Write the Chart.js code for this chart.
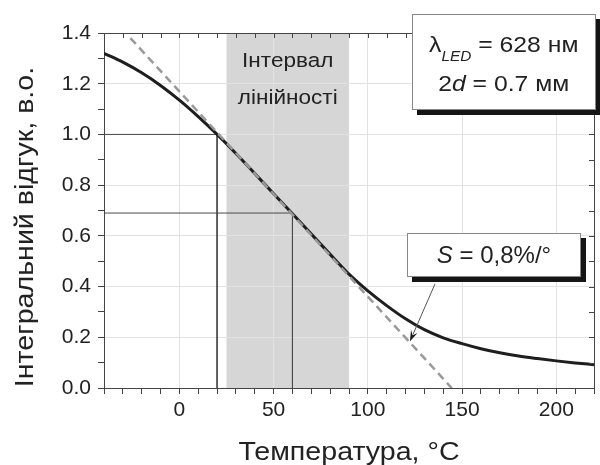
<!DOCTYPE html>
<html>
<head>
<meta charset="utf-8">
<script src="https://cdn.jsdelivr.net/npm/chart.js@4.4.0/dist/chart.umd.min.js"></script>
<style>
  html, body { margin: 0; padding: 0; background: #fff; }
</style>
</head>
<body>
<canvas id="myChart" width="600" height="465"></canvas>
<script>
// --DATA--------------------------------------------------------------------
const temperatures = [-40, -30, -20, -10, 0, 10, 20, 30, 40, 50, 60, 70, 80, 90,
  100, 110, 120, 130, 140, 150, 160, 170, 180, 190, 200, 210, 220];
const response = [1.32, 1.285, 1.243, 1.193, 1.135, 1.07, 1.0, 0.925, 0.846, 0.766,
  0.687, 0.607, 0.527, 0.449, 0.383, 0.325, 0.273, 0.23, 0.198, 0.175,
  0.155, 0.139, 0.126, 0.116, 0.107, 0.099, 0.092];
const tangentX = [-26, 144.5];
const tangentY = [1.38, 0];
const linearRange = [25, 90];
const markX = [20, 60];
const markY = [1.0, 0.69];
const xTickLabels = [0, 50, 100, 150, 200];
const yTickLabels = [0, 0.2, 0.4, 0.6, 0.8, 1.0, 1.2, 1.4];

const FONT = '"Liberation Sans", Arial, sans-serif';
const TEXT = "#222";
const STRETCH = 1.1;

// --ANNOTATIONS (data units)----------------------------------------------
const infoBox = { x0: 123.2, x1: 221, y0: 1.475, y1: 1.096, lines: [1.325, 1.171] };
const slopeBox = { x0: 120.6, x1: 213.3, y0: 0.612, y1: 0.439, line: 0.493 };
const slopeArrow = { from: [135.6, 0.41], to: [122.3, 0.183] };
const bandText = { lines: ["Інтервал", "лінійності"], y: [1.265, 1.120] };

function isLabel(list, v) {
  return list.some((l) => Math.abs(l - v) < 1e-6);
}

// text drawn a bit wider, the original picture is stretched sideways
function drawParts(ctx, parts, cx, y, stretch) {
  let total = 0;
  parts.forEach((p) => {
    ctx.font = p.font;
    p.w = ctx.measureText(p.t).width;
    total += p.w;
  });
  ctx.save();
  ctx.translate(cx, y);
  ctx.scale(stretch, 1);
  let x = -total / 2;
  ctx.textAlign = "left";
  ctx.textBaseline = "alphabetic";
  parts.forEach((p) => {
    ctx.font = p.font;
    ctx.fillText(p.t, x, p.dy || 0);
    x += p.w;
  });
  ctx.restore();
}

function drawBox(ctx, x0, y0, x1, y1) {
  x0 = Math.round(x0);
  y0 = Math.round(y0);
  x1 = Math.round(x1);
  y1 = Math.round(y1);
  ctx.save();
  ctx.fillStyle = "#151515";
  ctx.fillRect(x0 + 5, y0 + 5, x1 - x0, y1 - y0);
  ctx.fillStyle = "#fff";
  ctx.fillRect(x0, y0, x1 - x0, y1 - y0);
  ctx.strokeStyle = "#888";
  ctx.lineWidth = 1;
  ctx.strokeRect(x0 + 0.5, y0 + 0.5, x1 - x0 - 1, y1 - y0 - 1);
  ctx.restore();
}

const decorPlugin = {
  id: "decor",
  beforeDraw(chart) {
    const { ctx, chartArea, scales } = chart;
    ctx.save();
    ctx.fillStyle = "#fff";
    ctx.fillRect(0, 0, chart.width, chart.height);
    const a = scales.x.getPixelForValue(linearRange[0]);
    const b = scales.x.getPixelForValue(linearRange[1]);
    ctx.fillStyle = "#d6d6d6";
    ctx.fillRect(a, chartArea.top, b - a, chartArea.bottom - chartArea.top);
    ctx.restore();
  },
  afterDraw(chart) {
    const { ctx, chartArea, scales } = chart;
    const X = (v) => scales.x.getPixelForValue(v);
    const Y = (v) => scales.y.getPixelForValue(v);
    ctx.save();
    ctx.setLineDash([]);

    // frame top + right with inward ticks
    ctx.strokeStyle = "#444";
    ctx.lineWidth = 1;
    ctx.beginPath();
    ctx.moveTo(chartArea.left, chartArea.top + 0.5);
    ctx.lineTo(chartArea.right + 0.5, chartArea.top + 0.5);
    ctx.lineTo(chartArea.right + 0.5, chartArea.bottom);
    scales.x.ticks.forEach((t) => {
      const px = Math.round(X(t.value)) + 0.5;
      ctx.moveTo(px, chartArea.top);
      ctx.lineTo(px, chartArea.top + 5);
    });
    scales.y.ticks.forEach((t) => {
      const py = Math.round(Y(t.value)) + 0.5;
      ctx.moveTo(chartArea.right, py);
      ctx.lineTo(chartArea.right - 5, py);
    });
    ctx.stroke();

    // band labels
    ctx.fillStyle = TEXT;
    const bx = (X(linearRange[0]) + X(linearRange[1])) / 2;
    bandText.lines.forEach((s, i) => {
      drawParts(ctx, [{ t: s, font: "20.5px " + FONT }], bx, Y(bandText.y[i]), STRETCH);
    });

    // arrow
    const ax0 = X(slopeArrow.from[0]), ay0 = Y(slopeArrow.from[1]);
    const ax1 = X(slopeArrow.to[0]), ay1 = Y(slopeArrow.to[1]);
    const ang = Math.atan2(ay1 - ay0, ax1 - ax0);
    const c = Math.cos(ang), s = Math.sin(ang);
    ctx.strokeStyle = "#555";
    ctx.beginPath();
    ctx.moveTo(ax0, ay0);
    ctx.lineTo(ax1 - 8 * c, ay1 - 8 * s);
    ctx.stroke();
    ctx.fillStyle = "#1a1a1a";
    ctx.beginPath();
    ctx.moveTo(ax1, ay1);
    ctx.lineTo(ax1 - 11 * c + 3.5 * s, ay1 - 11 * s - 3.5 * c);
    ctx.lineTo(ax1 - 7 * c, ay1 - 7 * s);
    ctx.lineTo(ax1 - 11 * c - 3.5 * s, ay1 - 11 * s + 3.5 * c);
    ctx.closePath();
    ctx.fill();

    // info box
    drawBox(ctx, X(infoBox.x0), Y(infoBox.y0), X(infoBox.x1), Y(infoBox.y1));
    const icx = (X(infoBox.x0) + X(infoBox.x1)) / 2;
    ctx.fillStyle = TEXT;
    drawParts(ctx, [
      { t: "λ", font: "22.5px " + FONT },
      { t: "LED", font: "italic 14px " + FONT, dy: 9 },
      { t: " = 628 нм", font: "22.5px " + FONT }
    ], icx, Y(infoBox.lines[0]), STRETCH);
    drawParts(ctx, [
      { t: "2", font: "22.5px " + FONT },
      { t: "d", font: "italic 22.5px " + FONT },
      { t: " = 0.7 мм", font: "22.5px " + FONT }
    ], icx, Y(infoBox.lines[1]), STRETCH);

    // slope box
    drawBox(ctx, X(slopeBox.x0), Y(slopeBox.y0), X(slopeBox.x1), Y(slopeBox.y1));
    ctx.fillStyle = TEXT;
    drawParts(ctx, [
      { t: "S", font: "italic 24px " + FONT },
      { t: " = 0,8%/°", font: "24px " + FONT }
    ], (X(slopeBox.x0) + X(slopeBox.x1)) / 2, Y(slopeBox.line), 1);

    // axis titles
    ctx.fillStyle = TEXT;
    drawParts(ctx, [{ t: "Температура, °C", font: "26px " + FONT }],
      (chartArea.left + chartArea.right) / 2, 460, STRETCH);
    ctx.translate(33, 227);
    ctx.rotate(-Math.PI / 2);
    drawParts(ctx, [{ t: "Інтегральний відгук, в.о.", font: "26px " + FONT }], 0, 0, STRETCH);
    ctx.restore();
  }
};

// --DRAW GRAPH--------------------------------------------------------------
function refLine(i) {
  return {
    data: [
      { x: temperatures[0], y: markY[i] },
      { x: markX[i], y: markY[i] },
      { x: markX[i], y: 0 }
    ],
    borderColor: "#4a4a4a",
    borderWidth: 1,
    pointRadius: 0,
    tension: 0
  };
}

const ctx = document.getElementById("myChart").getContext("2d");
const myChart = new Chart(ctx, {
  type: "line",
  data: {
    datasets: [
      {
        label: "tangent",
        data: tangentX.map((x, i) => ({ x: x, y: tangentY[i] })),
        borderColor: "#999",
        borderWidth: 2.5,
        borderDash: [8, 5],
        pointRadius: 0,
        tension: 0
      },
      {
        label: "response",
        data: temperatures.map((t, i) => ({ x: t, y: response[i] })),
        borderColor: "#1e1e1e",
        borderWidth: 3,
        pointRadius: 0,
        cubicInterpolationMode: "monotone"
      },
      refLine(0),
      refLine(1)
    ]
  },
  options: {
    responsive: false,
    animation: false,
    devicePixelRatio: 1,
    layout: { padding: { top: 33, right: 6, left: 0, bottom: 0 } },
    plugins: { legend: { display: false }, tooltip: { enabled: false } },
    scales: {
      x: {
        type: "linear",
        min: temperatures[0],
        max: temperatures[temperatures.length - 1],
        afterFit: (scale) => { scale.height = 77; },
        ticks: {
          stepSize: 10, autoSkip: false, maxRotation: 0, padding: 4, color: TEXT,
          font: { family: FONT, size: 21 },
          callback: (v) => (isLabel(xTickLabels, v) ? String(v) : "")
        },
        grid: {
          color: (c) => (c.tick && isLabel(xTickLabels, c.tick.value) ? "#e2e2e2" : "rgba(0,0,0,0)"),
          tickColor: "#444", tickLength: 6
        },
        border: { color: "#444", width: 1 }
      },
      y: {
        min: 0,
        max: 1.4,
        afterFit: (scale) => { scale.width = 104; },
        ticks: {
          stepSize: 0.1, autoSkip: false, padding: 7, color: TEXT,
          font: { family: FONT, size: 21 },
          callback: (v) => (isLabel(yTickLabels, v) ? v.toFixed(1) : "")
        },
        grid: {
          color: (c) => (c.tick && isLabel(yTickLabels, c.tick.value) ? "#e2e2e2" : "rgba(0,0,0,0)"),
          tickColor: "#444", tickLength: 6
        },
        border: { color: "#444", width: 1 }
      }
    }
  },
  plugins: [decorPlugin]
});
</script>
</body>
</html>
